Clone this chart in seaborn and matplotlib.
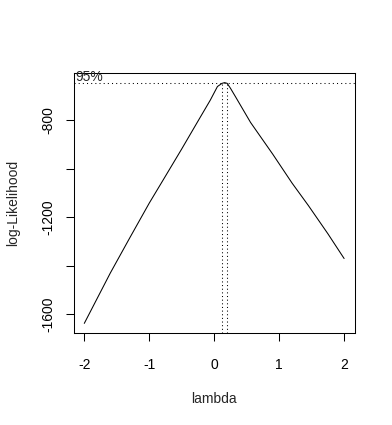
import matplotlib
matplotlib.use("Agg")
import matplotlib.pyplot as plt
import seaborn as sns
import pandas as pd

# Data (Box-Cox profile log-likelihood)
lambdas = [-2.0, -1.6, -1.3, -1.0, -0.8, -0.5, -0.24, -0.06, 0.05, 0.12, 0.16, 0.2,
           0.25, 0.33, 0.56, 0.9, 1.2, 1.45, 1.75, 2.0]
loglik = [-1637, -1430, -1285, -1142, -1053, -919, -800, -718, -662, -649, -646, -649,
          -669, -705, -810, -940, -1060, -1152, -1268, -1370]
ci_level = -648            # 95% threshold line
ci_lambdas = [0.12, 0.20]  # interval bounds
x_ticks = [-2, -1, 0, 1, 2]
y_ticks = [-1600, -1400, -1200, -1000, -800]
y_ticklabels = ["-1600", "", "-1200", "", "-800"]

sns.set_style("white")
plt.rcParams["font.family"] = ["Liberation Sans", "DejaVu Sans"]

fig = plt.figure(figsize=(3.92, 4.25), dpi=100)
ax = fig.add_axes([73.9 / 392, 1 - 333 / 425, (354.5 - 73.9) / 392, (333 - 73) / 425])

df = pd.DataFrame({"lambda": lambdas, "loglik": loglik})
sns.lineplot(data=df, x="lambda", y="loglik", ax=ax, color="black", linewidth=0.75,
             estimator=None, sort=False)

xmin, xmax = min(lambdas), max(lambdas)
ymin, ymax = min(loglik), max(loglik)
xpad = 0.04 * (xmax - xmin)
ypad = 0.04 * (ymax - ymin)
ax.set_xlim(xmin - xpad, xmax + xpad)
ax.set_ylim(ymin - ypad, ymax + ypad)

dot = (0, (1, 2.5))
ax.axhline(ci_level, color="black", linewidth=0.75, linestyle=(0, (1, 3)))
ax.vlines(ci_lambdas, ymin - ypad, ci_level, color="black", linewidth=0.75, linestyle=dot)
ax.annotate("95%", xy=(xmin - xpad, ci_level), xytext=(1, 1.2), textcoords="offset points",
            ha="left", va="baseline", fontsize=10)

ax.set_xticks(x_ticks)
ax.set_xticklabels([str(t) for t in x_ticks])
ax.set_yticks(y_ticks)
ax.set_yticklabels(y_ticklabels, rotation=90, va="center")
ax.tick_params(axis="both", direction="out", length=5.5, width=0.75, color="black",
               labelsize=10, labelcolor="black", bottom=True, left=True)
ax.tick_params(axis="x", pad=12.5)
ax.tick_params(axis="y", pad=8)

for s in ax.spines.values():
    s.set_visible(True)
    s.set_color("black")
    s.set_linewidth(0.75)

ax.set_xlabel("lambda", fontsize=10, labelpad=14.5)
ax.set_ylabel("log-Likelihood", fontsize=10, labelpad=15)

fig.savefig("out.png", dpi=100, facecolor="white")
